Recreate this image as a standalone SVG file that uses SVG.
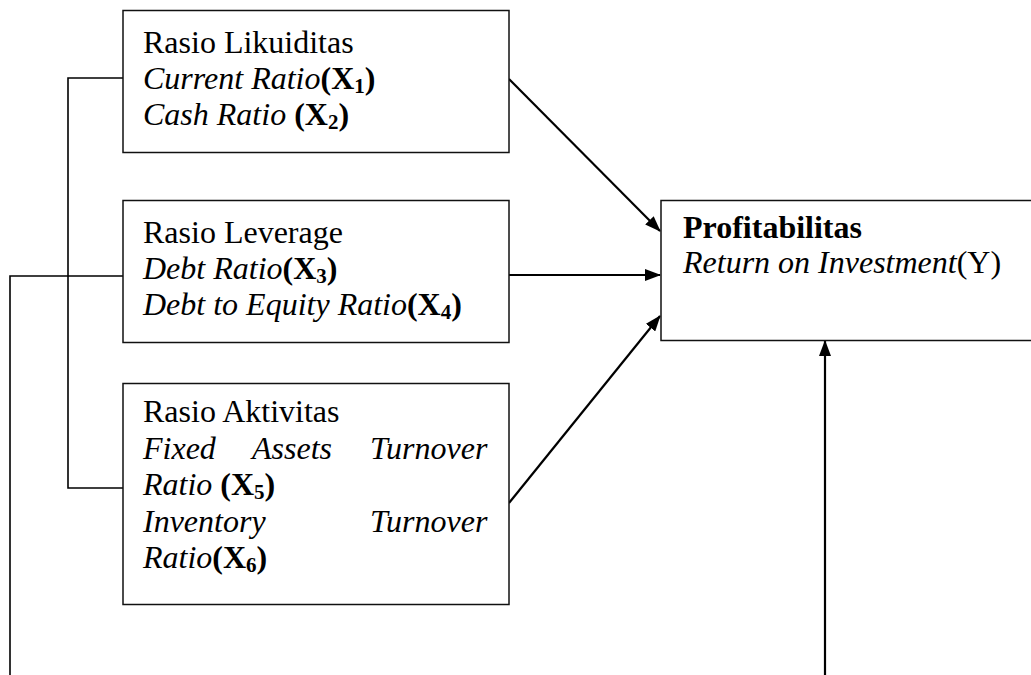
<svg xmlns="http://www.w3.org/2000/svg" width="1031" height="675" viewBox="0 0 1031 675">
<style>
.box{fill:#fff;stroke:#111;stroke-width:1.5}
.t{font-family:"Liberation Serif","Times New Roman",serif;font-size:32px;fill:#000}
.i{font-style:italic}
.b{font-weight:bold}
.s{font-size:21px;font-weight:bold}
.ln{fill:none;stroke:#000;stroke-width:1.6}
.ar{fill:none;stroke:#000;stroke-width:2.2}
</style>
<defs>
<marker id="ah" markerWidth="16" markerHeight="12" refX="15" refY="6" orient="auto" markerUnits="userSpaceOnUse">
<path d="M0,0 L16,6 L0,12 Z" fill="#000"/>
</marker>
</defs>
<rect width="1031" height="675" fill="#fff"/>
<g id="connectors">
<polyline class="ln" points="123,78 68,78 68,488 123,488"/>
<polyline class="ln" points="123,276 10,276 10,675"/>
<line class="ar" x1="509" y1="79" x2="660" y2="231" marker-end="url(#ah)"/>
<line class="ar" x1="509" y1="275" x2="660" y2="275" marker-end="url(#ah)"/>
<line class="ar" x1="509" y1="503" x2="660" y2="316" marker-end="url(#ah)"/>
<line class="ar" x1="825" y1="675" x2="825" y2="341" marker-end="url(#ah)"/>
</g>
<g id="node-likuiditas">
<rect class="box" x="123" y="10.5" width="386" height="142"/>
<text class="t" x="143" y="53">Rasio Likuiditas</text>
<text class="t" x="143" y="89"><tspan class="i">Current Ratio</tspan><tspan class="b">(X</tspan><tspan class="s" baseline-shift="-4">1</tspan><tspan class="b">)</tspan></text>
<text class="t" x="143" y="125"><tspan class="i">Cash Ratio </tspan><tspan class="b">(X</tspan><tspan class="s" baseline-shift="-4">2</tspan><tspan class="b">)</tspan></text>
</g>
<g id="node-leverage">
<rect class="box" x="123" y="200.5" width="386" height="142"/>
<text class="t" x="143" y="243">Rasio Leverage</text>
<text class="t" x="143" y="279"><tspan class="i">Debt Ratio</tspan><tspan class="b">(X</tspan><tspan class="s" baseline-shift="-4">3</tspan><tspan class="b">)</tspan></text>
<text class="t" x="143" y="315"><tspan class="i">Debt to Equity Ratio</tspan><tspan class="b">(X</tspan><tspan class="s" baseline-shift="-4">4</tspan><tspan class="b">)</tspan></text>
</g>
<g id="node-aktivitas">
<rect class="box" x="123" y="383.5" width="386" height="221"/>
<text class="t" x="143" y="422">Rasio Aktivitas</text>
<text class="t i" x="143" y="458.5">Fixed</text>
<text class="t i" x="252" y="458.5">Assets</text>
<text class="t i" x="370" y="458.5">Turnover</text>
<text class="t" x="143" y="495"><tspan class="i">Ratio </tspan><tspan class="b">(X</tspan><tspan class="s" baseline-shift="-4">5</tspan><tspan class="b">)</tspan></text>
<text class="t i" x="143" y="531.5">Inventory</text>
<text class="t i" x="370" y="531.5">Turnover</text>
<text class="t" x="143" y="568"><tspan class="i">Ratio</tspan><tspan class="b">(X</tspan><tspan class="s" baseline-shift="-4">6</tspan><tspan class="b">)</tspan></text>
</g>
<g id="node-profitabilitas">
<rect class="box" x="661" y="200.5" width="380" height="140"/>
<text class="t b" x="683" y="238">Profitabilitas</text>
<text class="t" x="683" y="273"><tspan class="i">Return on Investment</tspan>(Y)</text>
</g>
</svg>
